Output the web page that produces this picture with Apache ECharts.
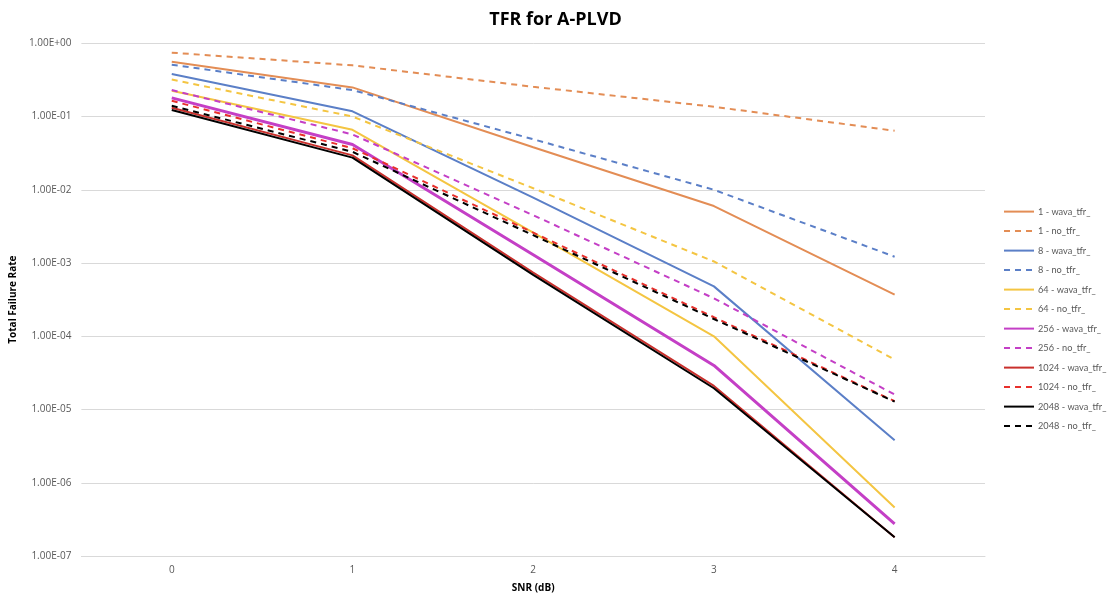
<!DOCTYPE html>
<html>
<head>
<meta charset="utf-8">
<title>TFR for A-PLVD</title>
<script src="https://cdn.jsdelivr.net/npm/echarts@6/dist/echarts.min.js"></script>
<style>
html, body { margin: 0; padding: 0; background: #fff; }
#main { width: 1111px; height: 598px; }
</style>
</head>
<body>
<div id="main"></div>
<script>
var snr = ['0', '1', '2', '3', '4'];

var wava1    = [0.56, 0.25, 0.038, 0.006, 0.00037];
var no1      = [0.745, 0.50, 0.255, 0.136, 0.064];
var wava8    = [0.38, 0.118, 0.0078, 0.00048, 0.0000038];
var no8      = [0.51, 0.23, 0.049, 0.0100, 0.00122];
var wava64   = [0.225, 0.066, 0.0026, 0.0001, 0.00000046];
var no64     = [0.32, 0.10, 0.0105, 0.00105, 0.000048];
var wava256  = [0.18, 0.0415, 0.0013, 0.00004, 0.000000275];
var no256    = [0.23, 0.057, 0.0045, 0.00033, 0.000016];
var wava1024 = [0.132, 0.0295, 0.00074, 0.000021, 0.00000018];
var no1024   = [0.164, 0.037, 0.0026, 0.000182, 0.000013];
var wava2048 = [0.123, 0.0275, 0.00069, 0.0000195, 0.00000018];
var no2048   = [0.14, 0.033, 0.0024, 0.000172, 0.0000128];

var myChart = echarts.init(document.getElementById('main'));

function sciLabel(v) {
    var e = Math.round(Math.log(v) / Math.LN10);
    var m = v / Math.pow(10, e);
    var s = e < 0 ? '-' : '+';
    var a = Math.abs(e);
    return m.toFixed(2) + 'E' + s + (a < 10 ? '0' + a : a);
}

function makeLine(name, data, color, dashed, width) {
    return {
        name: name,
        type: 'line',
        data: data,
        symbol: 'none',
        smooth: false,
        lineStyle: {
            color: color,
            width: width,
            type: dashed ? [6, 5] : 'solid'
        },
        itemStyle: { color: color }
    };
}

var option = {
    backgroundColor: '#fff',
    animation: false,
    title: {
        text: 'TFR for A-PLVD',
        left: 'center',
        top: 6,
        textStyle: {
            fontFamily: 'Open Sans',
            fontSize: 18,
            fontWeight: 'bold',
            color: '#000'
        }
    },
    legend: {
        orient: 'vertical',
        left: 1003,
        top: 206,
        padding: 0,
        itemWidth: 30,
        itemHeight: 14,
        itemGap: 8.3,
        itemStyle: { opacity: 0 },
        textStyle: {
            fontFamily: 'Lato',
            fontSize: 9.2,
            color: '#595959',
            padding: [0, 0, 0, -1]
        }
    },
    grid: {
        left: 77.5,
        right: 126,
        top: 43.3,
        bottom: 39.7,
        containLabel: false
    },
    xAxis: {
        type: 'category',
        data: snr,
        boundaryGap: true,
        name: 'SNR (dB)',
        nameLocation: 'middle',
        nameGap: 27,
        nameTextStyle: {
            fontFamily: 'Open Sans',
            fontSize: 10,
            fontWeight: 'bold',
            color: '#000'
        },
        axisLine: { lineStyle: { color: '#d9d9d9' } },
        axisTick: { show: false },
        axisLabel: {
            fontFamily: 'Open Sans',
            fontSize: 10,
            color: '#595959',
            margin: 9
        }
    },
    yAxis: {
        type: 'log',
        logBase: 10,
        min: 1e-7,
        max: 1,
        name: 'Total Failure Rate',
        nameLocation: 'middle',
        nameGap: 56,
        nameTextStyle: {
            fontFamily: 'Open Sans',
            fontSize: 10,
            fontWeight: 'bold',
            color: '#000'
        },
        axisLine: { show: false },
        axisTick: { show: false },
        splitLine: { lineStyle: { color: '#d9d9d9', width: 1 } },
        axisLabel: {
            fontFamily: 'Open Sans',
            fontSize: 10,
            color: '#595959',
            margin: 10,
            formatter: sciLabel
        }
    },
    series: [
        makeLine('1 - wava_tfr_', wava1, '#e38d55', false, 2),
        makeLine('1 - no_tfr_', no1, '#e38d55', true, 2),
        makeLine('8 - wava_tfr_', wava8, '#5b7fc7', false, 2),
        makeLine('8 - no_tfr_', no8, '#5b7fc7', true, 2),
        makeLine('64 - wava_tfr_', wava64, '#f4c542', false, 2),
        makeLine('64 - no_tfr_', no64, '#f4c542', true, 2),
        makeLine('256 - wava_tfr_', wava256, '#c43fc6', false, 3),
        makeLine('256 - no_tfr_', no256, '#c43fc6', true, 2),
        makeLine('1024 - wava_tfr_', wava1024, '#c9302c', false, 2),
        makeLine('1024 - no_tfr_', no1024, '#e8302c', true, 2),
        makeLine('2048 - wava_tfr_', wava2048, '#000000', false, 2),
        makeLine('2048 - no_tfr_', no2048, '#000000', true, 2)
    ]
};

myChart.setOption(option);
</script>
</body>
</html>
